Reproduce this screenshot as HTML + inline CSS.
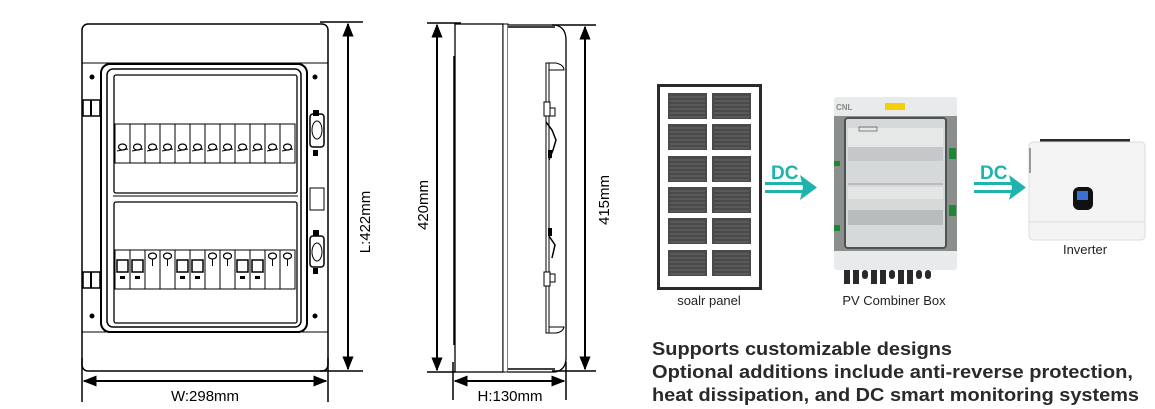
<!DOCTYPE html>
<html><head><meta charset="utf-8"><style>
html,body{margin:0;padding:0;background:#fff;}
svg{display:block;}
text{font-family:"Liberation Sans",Arial,sans-serif;}
</style></head><body>
<svg width="1155" height="409" viewBox="0 0 1155 409" xmlns="http://www.w3.org/2000/svg">
<defs>
<marker id="ah" viewBox="0 0 10 10" refX="9" refY="5" markerWidth="7" markerHeight="7" orient="auto-start-reverse"><path d="M0,1 L10,5 L0,9 z" fill="#000"/></marker>
<g id="brk"><rect x="0" y="0" width="15" height="39" fill="#fff" stroke="#000" stroke-width="1"/><ellipse cx="7.5" cy="23" rx="4" ry="3" fill="none" stroke="#000" stroke-width="1.2"/><line x1="2" y1="27" x2="13" y2="25" stroke="#000"/></g>
<g id="brk2"><rect x="0" y="0" width="15" height="39" fill="#fff" stroke="#000"/><rect x="2" y="10" width="11" height="12" fill="none" stroke="#000" stroke-width="1.5"/><rect x="5" y="26" width="5" height="3" fill="#000"/></g>
<g id="brk3"><rect x="0" y="0" width="15" height="39" fill="#fff" stroke="#000"/><ellipse cx="7.5" cy="6" rx="4" ry="3" fill="none" stroke="#000" stroke-width="1.2"/><line x1="7.5" y1="9" x2="7.5" y2="16" stroke="#000"/></g>
<g id="cell"><rect width="39" height="26" fill="#4a4a4a"/><path d="M2 4H37M2 8H37M2 12H37M2 16H37M2 20H37M2 24H37" stroke="#8a8a8a" stroke-width="0.6"/></g>
</defs>

<!-- FRONT VIEW -->
<rect x="82" y="24" width="246" height="347" rx="6" fill="#fff" stroke="#000" stroke-width="1.5"/>
<line x1="82" y1="63" x2="328" y2="63" stroke="#000"/>
<line x1="82" y1="332" x2="328" y2="332" stroke="#000"/>
<rect x="101" y="64" width="206" height="268" rx="9" fill="#fff" stroke="#000" stroke-width="2"/>
<rect x="107" y="69" width="194" height="258" rx="6" fill="none" stroke="#000" stroke-width="1.5"/>
<rect x="114" y="75" width="183" height="118" rx="2" fill="#fff" stroke="#000" stroke-width="1.3"/>
<rect x="114" y="202" width="183" height="121" rx="2" fill="#fff" stroke="#000" stroke-width="1.3"/>
<line x1="113" y1="196" x2="298" y2="196" stroke="#000"/>
<use href="#brk" x="115" y="124"/><use href="#brk" x="130" y="124"/><use href="#brk" x="145" y="124"/><use href="#brk" x="160" y="124"/><use href="#brk" x="175" y="124"/><use href="#brk" x="190" y="124"/><use href="#brk" x="205" y="124"/><use href="#brk" x="220" y="124"/><use href="#brk" x="235" y="124"/><use href="#brk" x="250" y="124"/><use href="#brk" x="265" y="124"/><use href="#brk" x="280" y="124"/>
<use href="#brk2" x="115" y="250"/><use href="#brk2" x="130" y="250"/><use href="#brk3" x="145" y="250"/><use href="#brk3" x="160" y="250"/><use href="#brk2" x="175" y="250"/><use href="#brk2" x="190" y="250"/><use href="#brk3" x="205" y="250"/><use href="#brk3" x="220" y="250"/><use href="#brk2" x="235" y="250"/><use href="#brk2" x="250" y="250"/><use href="#brk3" x="265" y="250"/><use href="#brk3" x="280" y="250"/>
<circle cx="92" cy="77" r="2.5" fill="#000"/><circle cx="315" cy="77" r="2.5" fill="#000"/><circle cx="92" cy="316" r="2.5" fill="#000"/><circle cx="315" cy="316" r="2.5" fill="#000"/>
<rect x="83" y="100" width="17" height="16" fill="none" stroke="#000" stroke-width="1.5"/><line x1="91" y1="100" x2="91" y2="116" stroke="#000" stroke-width="2"/>
<rect x="83" y="272" width="17" height="16" fill="none" stroke="#000" stroke-width="1.5"/><line x1="91" y1="272" x2="91" y2="288" stroke="#000" stroke-width="2"/>
<rect x="310" y="114" width="14" height="33" rx="3" fill="#fff" stroke="#000" stroke-width="1.5"/><ellipse cx="317" cy="130" rx="5" ry="9" fill="none" stroke="#000"/><rect x="313" y="110" width="6" height="6" fill="#000"/><rect x="313" y="150" width="5" height="6" fill="#000"/>
<rect x="310" y="188" width="14" height="22" fill="none" stroke="#000"/>
<rect x="310" y="236" width="14" height="31" rx="3" fill="#fff" stroke="#000" stroke-width="1.5"/><ellipse cx="317" cy="252" rx="5" ry="9" fill="none" stroke="#000"/><rect x="313" y="230" width="6" height="6" fill="#000"/><rect x="313" y="268" width="5" height="6" fill="#000"/>
<!-- L dim -->
<line x1="320" y1="22" x2="363" y2="22" stroke="#000" stroke-width="1.5"/>
<line x1="320" y1="371" x2="363" y2="371" stroke="#000" stroke-width="1.5"/>
<line x1="348" y1="24" x2="348" y2="369" stroke="#000" stroke-width="2" marker-start="url(#ah)" marker-end="url(#ah)"/>
<text x="372" y="222" font-size="15" text-anchor="middle" transform="rotate(-90 372 222)" dy="-2">L:422mm</text>
<!-- W dim -->
<line x1="82" y1="358" x2="82" y2="402" stroke="#000" stroke-width="1.5"/>
<line x1="328" y1="358" x2="328" y2="402" stroke="#000" stroke-width="1.5"/>
<line x1="84" y1="381" x2="326" y2="381" stroke="#000" stroke-width="2" marker-start="url(#ah)" marker-end="url(#ah)"/>
<text x="205" y="401" font-size="15" text-anchor="middle">W:298mm</text>

<!-- SIDE VIEW -->
<rect x="455" y="24" width="48" height="348" fill="#fff" stroke="#000" stroke-width="1.3"/>
<line x1="454" y1="56" x2="454" y2="345" stroke="#000" stroke-width="1.5"/>
<rect x="503" y="24" width="5" height="348" fill="#fff" stroke="#000"/>
<path d="M508 25 H555 Q566 27 566 40 V358 Q566 370 555 372 H508" fill="#fff" stroke="#000" stroke-width="1.3"/>
<path d="M508 27 H555 M508 369 H555" stroke="#000" stroke-width="1.5"/>
<rect x="546" y="63" width="3" height="270" fill="#fff" stroke="#000"/>
<path d="M549 63 H556 Q564 65 564 70 H549 Z" fill="#fff" stroke="#000"/>
<path d="M549 327 H564 Q563 332 556 333 H549 Z" fill="#fff" stroke="#000"/>
<rect x="544" y="102" width="6" height="14" fill="#fff" stroke="#000"/><rect x="550" y="108" width="5" height="8" fill="none" stroke="#000"/>
<path d="M546 122 L552 130 L556 140 L553 150 L549 160" fill="none" stroke="#000" stroke-width="1.5"/><rect x="548" y="150" width="4" height="8" fill="#000"/>
<rect x="548" y="228" width="4" height="8" fill="#000"/>
<path d="M549 236 L555 245 L552 258" fill="none" stroke="#000" stroke-width="1.5"/>
<rect x="544" y="272" width="6" height="14" fill="#fff" stroke="#000"/><rect x="550" y="274" width="5" height="8" fill="none" stroke="#000"/>
<!-- 420 dim -->
<line x1="427" y1="23" x2="461" y2="23" stroke="#000" stroke-width="1.5"/>
<line x1="427" y1="372" x2="455" y2="372" stroke="#000" stroke-width="1.5"/>
<line x1="437" y1="25" x2="437" y2="370" stroke="#000" stroke-width="2" marker-start="url(#ah)" marker-end="url(#ah)"/>
<text x="428" y="205" font-size="15" text-anchor="middle" transform="rotate(-90 428 205)">420mm</text>
<!-- 415 dim -->
<line x1="552" y1="25" x2="596" y2="25" stroke="#000" stroke-width="1.5"/>
<line x1="552" y1="371" x2="596" y2="371" stroke="#000" stroke-width="1.5"/>
<line x1="585" y1="27" x2="585" y2="369" stroke="#000" stroke-width="2" marker-start="url(#ah)" marker-end="url(#ah)"/>
<text x="609" y="200" font-size="15" text-anchor="middle" transform="rotate(-90 609 200)">415mm</text>
<!-- H dim -->
<line x1="453" y1="362" x2="453" y2="400" stroke="#000" stroke-width="1.5"/>
<line x1="566" y1="362" x2="566" y2="400" stroke="#000" stroke-width="1.5"/>
<line x1="455" y1="381" x2="564" y2="381" stroke="#000" stroke-width="2" marker-start="url(#ah)" marker-end="url(#ah)"/>
<text x="510" y="401" font-size="15" text-anchor="middle">H:130mm</text>

<!-- SOLAR PANEL -->
<rect x="658.5" y="85.5" width="102" height="203" fill="#fff" stroke="#2a2a2a" stroke-width="3"/>
<use href="#cell" x="668" y="93"/><use href="#cell" x="712" y="93"/>
<use href="#cell" x="668" y="124"/><use href="#cell" x="712" y="124"/>
<use href="#cell" x="668" y="156"/><use href="#cell" x="712" y="156"/>
<use href="#cell" x="668" y="187"/><use href="#cell" x="712" y="187"/>
<use href="#cell" x="668" y="218"/><use href="#cell" x="712" y="218"/>
<use href="#cell" x="668" y="250"/><use href="#cell" x="712" y="250"/>
<text x="709" y="305" font-size="13" text-anchor="middle" fill="#222">soalr panel</text>

<!-- arrows -->
<g fill="#1eb3ac">
<text x="771" y="179" font-size="19" font-weight="bold">DC</text>
<rect x="765" y="182" width="40" height="3"/><rect x="765" y="190" width="40" height="3"/>
<path d="M800 175 L817 187.5 L800 200 L803 187.5 Z"/>
<text x="980" y="179" font-size="19" font-weight="bold">DC</text>
<rect x="974" y="182" width="40" height="3"/><rect x="974" y="190" width="40" height="3"/>
<path d="M1009 175 L1026 187.5 L1009 200 L1012 187.5 Z"/>
</g>

<!-- COMBINER BOX -->
<rect x="834" y="97" width="123" height="173" rx="3" fill="#e8eaeb"/>
<rect x="834" y="116" width="123" height="135" fill="#8a8f8e"/>
<rect x="845" y="118" width="101" height="130" rx="3" fill="#d6d9d9" stroke="#4d5252" stroke-width="2"/>
<rect x="848" y="128" width="95" height="33" fill="#e6e8e8"/>
<rect x="848" y="147" width="95" height="14" fill="#c4c8c8"/>
<rect x="848" y="187" width="95" height="12" fill="#e4e6e6"/>
<rect x="848" y="210" width="95" height="15" fill="#b8bcbc"/>
<line x1="848" y1="184" x2="943" y2="184" stroke="#9a9e9e"/>
<rect x="834" y="161" width="6" height="5" fill="#1a8a32"/><rect x="834" y="225" width="6" height="6" fill="#1a8a32"/>
<rect x="949" y="148" width="7" height="11" fill="#1a8a32"/><rect x="949" y="205" width="7" height="11" fill="#1a8a32"/>
<text x="836" y="110" font-size="8" font-weight="bold" fill="#888">CNL</text>
<rect x="885" y="103" width="20" height="7" fill="#f4d000"/>
<rect x="859" y="127" width="18" height="4" fill="none" stroke="#555" stroke-width="0.7"/>
<g fill="#2a2a2a"><rect x="844" y="270" width="6" height="14"/><rect x="853" y="270" width="6" height="14"/><rect x="862" y="270" width="6" height="9" rx="3"/><rect x="871" y="270" width="6" height="14"/><rect x="880" y="270" width="6" height="14"/><rect x="889" y="270" width="6" height="9" rx="3"/><rect x="898" y="270" width="6" height="14"/><rect x="907" y="270" width="6" height="14"/><rect x="916" y="270" width="6" height="9" rx="3"/><rect x="925" y="270" width="6" height="9" rx="3"/></g>
<text x="894" y="305" font-size="13" text-anchor="middle" fill="#222">PV Combiner Box</text>

<!-- INVERTER -->
<rect x="1040" y="139" width="90" height="5" fill="#2a2a2a"/>
<rect x="1029" y="142" width="116" height="98" rx="4" fill="#f4f4f4" stroke="#dcdcdc"/>
<line x1="1029" y1="222" x2="1145" y2="222" stroke="#dcdcdc"/>
<rect x="1029" y="148" width="2" height="25" fill="#999"/>
<rect x="1073" y="187" width="20" height="23" rx="6" fill="#111"/>
<rect x="1077" y="191" width="11" height="9" fill="#3b6fd1"/>
<text x="1085" y="254" font-size="13" text-anchor="middle" fill="#222">Inverter</text>

<!-- text -->
<g font-size="18.5" font-weight="bold" fill="#2a2a2a">
<text x="652" y="355" textLength="300" lengthAdjust="spacingAndGlyphs">Supports customizable designs</text>
<text x="652" y="378" textLength="481" lengthAdjust="spacingAndGlyphs">Optional additions include anti-reverse protection,</text>
<text x="652" y="401" textLength="487" lengthAdjust="spacingAndGlyphs">heat dissipation, and DC smart monitoring systems</text>
</g>
</svg>
</body></html>
